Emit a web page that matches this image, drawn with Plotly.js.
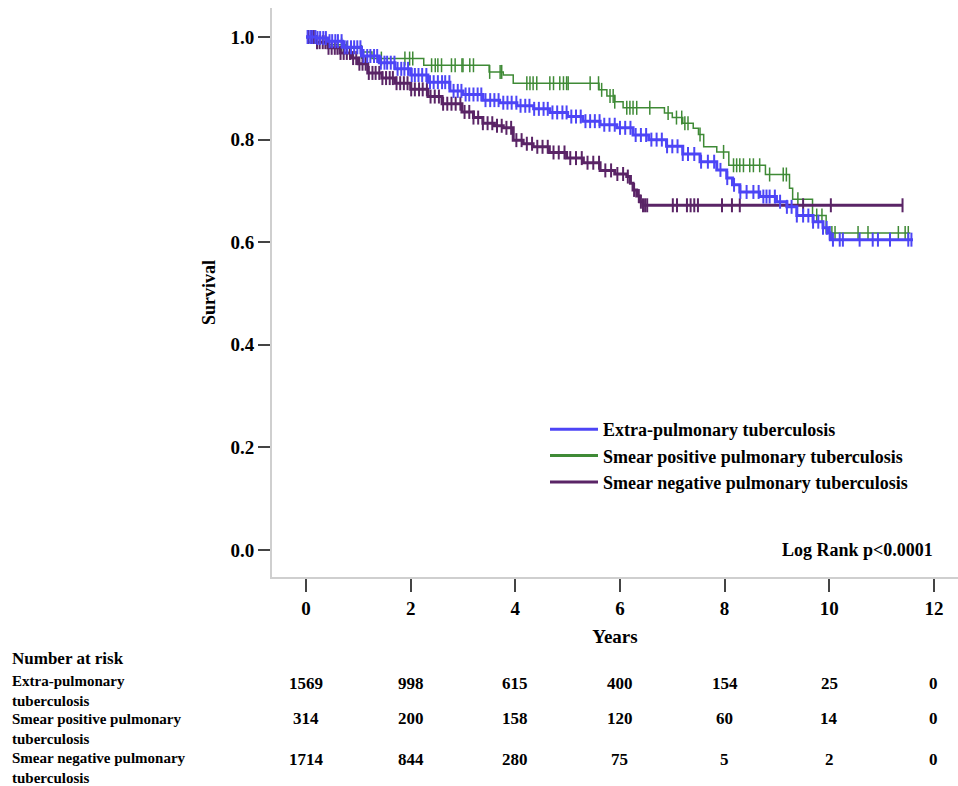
<!DOCTYPE html>
<html>
<head>
<meta charset="utf-8">
<script src="https://cdn.plot.ly/plotly-3.0.1.min.js"></script>
<style>html,body{margin:0;padding:0;background:#fff;}#chart{width:958px;height:786px;}</style>
</head>
<body>
<div id="chart"></div>
<script>
// ---------------- DATA ----------------
const seriesNames = ["Extra-pulmonary tuberculosis", "Smear positive pulmonary tuberculosis", "Smear negative pulmonary tuberculosis"];

// Kaplan-Meier step points (years, survival)
const extraT = [0, 0.2, 0.42, 0.7, 1.06, 1.4, 1.7, 2.0, 2.33, 2.75, 3.0, 3.38, 3.7, 4.03, 4.35, 4.66, 5.0, 5.29, 5.62, 5.94, 6.25, 6.55, 6.89, 7.2, 7.53, 7.85, 8.04, 8.15, 8.29, 8.67, 8.99, 9.19, 9.38, 9.69, 9.88, 9.98, 10.02, 11.6];
const extraS = [1.0, 0.998, 0.992, 0.98, 0.963, 0.95, 0.938, 0.926, 0.912, 0.895, 0.888, 0.877, 0.872, 0.866, 0.86, 0.853, 0.845, 0.836, 0.829, 0.823, 0.809, 0.8, 0.787, 0.772, 0.757, 0.741, 0.725, 0.712, 0.698, 0.689, 0.679, 0.669, 0.652, 0.64, 0.628, 0.618, 0.605, 0.605];

const posT = [0, 0.05, 0.4, 0.75, 1.06, 1.26, 2.25, 3.5, 3.77, 3.96, 5.6, 5.75, 5.9, 6.06, 6.85, 7.0, 7.2, 7.4, 7.5, 7.6, 7.85, 8.08, 8.78, 9.24, 9.3, 9.68, 9.94, 11.55];
const posS = [1.0, 0.99, 0.985, 0.978, 0.971, 0.958, 0.945, 0.932, 0.926, 0.91, 0.897, 0.885, 0.874, 0.862, 0.852, 0.843, 0.832, 0.822, 0.81, 0.786, 0.776, 0.75, 0.732, 0.705, 0.684, 0.652, 0.618, 0.618];

const negT = [0, 0.2, 0.42, 0.65, 0.87, 1.0, 1.18, 1.45, 1.7, 2.0, 2.33, 2.6, 2.98, 3.2, 3.38, 3.6, 3.77, 3.96, 4.15, 4.34, 4.65, 4.98, 5.3, 5.62, 5.9, 6.13, 6.2, 6.25, 6.32, 6.38, 6.44, 11.4];
const negS = [1.0, 0.99, 0.979, 0.969, 0.959, 0.948, 0.93, 0.92, 0.91, 0.898, 0.884, 0.87, 0.854, 0.843, 0.832, 0.827, 0.823, 0.799, 0.792, 0.786, 0.775, 0.764, 0.755, 0.74, 0.733, 0.728, 0.715, 0.702, 0.69, 0.679, 0.672, 0.672];

// censoring times (years)
const extraCens = [0.03, 0.08, 0.12, 0.18, 0.22, 0.27, 0.33, 0.38, 0.45, 0.5, 0.56, 0.61, 0.68, 0.74, 0.79, 0.86, 0.92, 0.98, 1.04, 1.1, 1.17, 1.23, 1.3, 1.36, 1.43, 1.5, 1.55, 1.62, 1.69, 1.75, 1.82, 1.88, 1.95, 2.02, 2.08, 2.15, 2.22, 2.3, 2.37, 2.44, 2.52, 2.6, 2.66, 2.74, 2.82, 2.9, 2.97, 3.05, 3.12, 3.2, 3.28, 3.35, 3.43, 3.52, 3.6, 3.68, 3.77, 3.85, 3.93, 4.02, 4.1, 4.19, 4.27, 4.36, 4.45, 4.54, 4.62, 4.71, 4.8, 4.9, 4.98, 5.07, 5.16, 5.25, 5.34, 5.43, 5.52, 5.61, 5.7, 5.8, 5.9, 6.0, 6.1, 6.2, 6.3, 6.4, 6.5, 6.6, 6.7, 6.8, 6.9, 7.0, 7.1, 7.2, 7.3, 7.42, 7.55, 7.68, 7.8, 7.92, 8.05, 8.18, 8.3, 8.42, 8.55, 8.65, 8.74, 8.8, 8.86, 8.96, 9.06, 9.19, 9.28, 9.38, 9.5, 9.6, 9.69, 9.79, 9.88, 9.95, 10.01, 10.07, 10.2, 10.26, 10.58, 10.83, 10.93, 11.16, 11.51, 11.57];
const posCens = [0.68, 0.78, 1.06, 1.44, 1.89, 1.98, 2.04, 2.4, 2.47, 2.52, 2.59, 2.78, 2.85, 2.98, 3.0, 3.13, 3.2, 3.51, 3.71, 3.74, 4.22, 4.28, 4.34, 4.41, 4.66, 4.73, 4.85, 4.92, 4.98, 5.01, 5.43, 5.59, 5.65, 5.81, 5.87, 5.9, 6.13, 6.19, 6.25, 6.32, 6.57, 6.92, 7.08, 7.18, 7.24, 7.3, 7.53, 7.98, 8.17, 8.23, 8.29, 8.36, 8.48, 8.55, 8.67, 8.86, 9.12, 9.18, 9.4, 9.76, 9.86, 10.05, 10.11, 10.55, 10.74, 11.32, 11.45, 11.51];
const negCens = [0.04, 0.1, 0.15, 0.21, 0.26, 0.32, 0.37, 0.43, 0.49, 0.55, 0.6, 0.66, 0.72, 0.78, 0.84, 0.9, 0.96, 1.02, 1.08, 1.14, 1.2, 1.27, 1.33, 1.4, 1.46, 1.53, 1.6, 1.66, 1.73, 1.8, 1.87, 1.94, 2.01, 2.08, 2.16, 2.23, 2.31, 2.38, 2.46, 2.54, 2.62, 2.7, 2.78, 2.86, 2.95, 3.03, 3.12, 3.2, 3.29, 3.38, 3.47, 3.56, 3.65, 3.74, 3.83, 3.92, 4.02, 4.12, 4.22, 4.32, 4.42, 4.52, 4.62, 4.73, 4.83, 4.94, 5.05, 5.16, 5.27, 5.38, 5.49, 5.6, 5.72, 5.83, 5.95, 6.06, 6.15, 6.27, 6.36, 6.4, 6.44, 6.48, 6.52, 7.01, 7.09, 7.28, 7.35, 7.42, 7.49, 7.95, 8.14, 8.29, 9.5, 10.03, 11.4];

// number at risk table
const riskYears = [0, 2, 4, 6, 8, 10, 12];
const riskExtra = [1569, 998, 615, 400, 154, 25, 0];
const riskPos = [314, 200, 158, 120, 60, 14, 0];
const riskNeg = [1714, 844, 280, 75, 5, 2, 0];
const riskHeader = "Number at risk";
const riskLabels = ["Extra-pulmonary<br>tuberculosis", "Smear positive pulmonary<br>tuberculosis", "Smear negative pulmonary<br>tuberculosis"];

const xTicks = [0, 2, 4, 6, 8, 10, 12];
const yTicks = [0.0, 0.2, 0.4, 0.6, 0.8, 1.0];
const yTickText = ["0.0", "0.2", "0.4", "0.6", "0.8", "1.0"];

// ---------------- STYLE ----------------
const colors = ["#4d45f6", "#3f8a36", "#5a2466"];
const FONT = "Liberation Serif, Times New Roman, serif";

function survAt(T, S, t) {
  let v = S[0];
  for (let i = 0; i < T.length; i++) { if (T[i] <= t) v = S[i]; }
  return v;
}

function stepTrace(T, S, c, w) {
  return {x: T, y: S, type: "scatter", mode: "lines", line: {shape: "hv", color: c, width: w}, showlegend: false, hoverinfo: "skip"};
}
function censTrace(T, S, C, c, sz, lw) {
  return {x: C, y: C.map(t => survAt(T, S, t)), type: "scatter", mode: "markers",
    marker: {symbol: "line-ns", size: sz, color: c, line: {color: c, width: lw}}, showlegend: false, hoverinfo: "skip"};
}
function legendTrace(name, c, g) {
  return {x: [null], y: [null], type: "scatter", mode: "lines", name: name, legendgroup: g, line: {color: c, width: 3}, showlegend: true};
}

const traces = [
  stepTrace(posT, posS, colors[1], 1.5),
  censTrace(posT, posS, posCens, colors[1], 10, 1.5),
  stepTrace(negT, negS, colors[2], 3),
  censTrace(negT, negS, negCens, colors[2], 10, 2),
  stepTrace(extraT, extraS, colors[0], 3),
  censTrace(extraT, extraS, extraCens, colors[0], 10, 2),
  legendTrace(seriesNames[0], colors[0], "a"),
  legendTrace(seriesNames[1], colors[1], "b"),
  legendTrace(seriesNames[2], colors[2], "c")
];

// plot area geometry (pixels) used to place the table text
const M = {l: 272, r: 0, t: 8, b: 209};
const plotH = 786 - M.t - M.b;
const plotW = 958 - M.l - M.r;
const pyToPaper = p => (786 - M.b - p) / plotH;
const pxToPaper = p => (p - M.l) / plotW;

const bold = sz => ({family: FONT, size: sz, color: "#000", weight: 700});

const annotations = [];
annotations.push({text: "Log Rank p<0.0001", xref: "x", yref: "y", x: 12.02, y: 0.0, xanchor: "right", yanchor: "middle", showarrow: false, font: bold(18)});
annotations.push({text: riskHeader, xref: "paper", yref: "paper", x: pxToPaper(10), y: pyToPaper(658), xanchor: "left", yanchor: "middle", showarrow: false, font: bold(17)});
const numY = [683, 718, 759];
const labTop = [671, 709, 748];
const riskRows = [riskExtra, riskPos, riskNeg];
riskLabels.forEach((lab, r) => {
  annotations.push({text: lab, xref: "paper", yref: "paper", x: pxToPaper(10), y: pyToPaper(labTop[r]), xanchor: "left", yanchor: "top", align: "left", showarrow: false, font: bold(15)});
  riskRows[r].forEach((v, i) => {
    annotations.push({text: String(v), xref: "x", yref: "paper", x: riskYears[i], y: pyToPaper(numY[r]), xanchor: "center", yanchor: "middle", showarrow: false, font: bold(17)});
  });
});

const layout = {
  width: 958, height: 786,
  margin: M,
  paper_bgcolor: "#fff", plot_bgcolor: "#fff",
  font: {family: FONT, size: 17, color: "#000"},
  xaxis: {
    range: [-0.65, 12.46], tickvals: xTicks, ticktext: xTicks.map(String),
    showgrid: false, zeroline: false, showline: true, linecolor: "#cfcfcf", linewidth: 2,
    ticks: "outside", ticklen: 13, tickwidth: 2, tickcolor: "#444",
    tickfont: {family: FONT, size: 19, color: "#000", weight: 700},
    title: {text: "Years", font: {family: FONT, size: 19, color: "#000", weight: 700}, standoff: 12}
  },
  yaxis: {
    range: [-0.0526, 1.0566], tickvals: yTicks, ticktext: yTickText,
    showgrid: false, zeroline: false, showline: true, linecolor: "#cfcfcf", linewidth: 2,
    ticks: "outside", ticklen: 12, tickwidth: 2, tickcolor: "#444",
    tickfont: {family: FONT, size: 19, color: "#000", weight: 700},
    title: {text: "Survival", font: {family: FONT, size: 18, color: "#000", weight: 700}, standoff: 10}
  },
  legend: {
    x: pxToPaper(545), y: pyToPaper(411), xanchor: "left", yanchor: "top",
    bgcolor: "rgba(0,0,0,0)", borderwidth: 0, itemwidth: 48, tracegroupgap: 0,
    font: {family: FONT, size: 18, color: "#000", weight: 700}
  },
  annotations: annotations,
  showlegend: true
};

Plotly.newPlot("chart", traces, layout, {displayModeBar: false, staticPlot: true});
</script>
</body>
</html>
